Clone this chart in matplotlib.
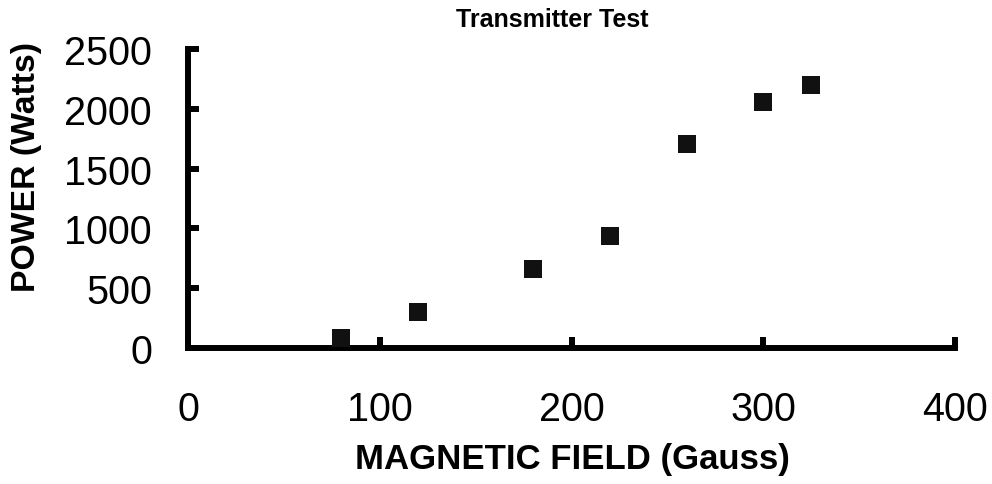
import matplotlib
matplotlib.use("Agg")
import matplotlib.pyplot as plt

field = [80, 120, 180, 220, 260, 300, 325]
power = [85, 300, 660, 935, 1705, 2060, 2200]
xticks = [0, 100, 200, 300, 400]
yticks = [0, 500, 1000, 1500, 2000, 2500]

plt.rcParams['font.family'] = ['Liberation Sans', 'DejaVu Sans']

W, H = 992, 485
fig = plt.figure(figsize=(W/100, H/100), dpi=100)
ax = fig.add_axes([188/W, 1-349/H, (955-188)/W, (349-50)/H])

ax.scatter(field, power, marker='s', s=13**2, color='#111111', linewidths=0, zorder=3, clip_on=False)

ax.set_xlim(0, 400)
ax.set_ylim(0, 2500)
ax.set_xticks(xticks)
ax.set_yticks(yticks)
ax.set_xticklabels([str(v) for v in xticks])
ax.set_yticklabels([str(v) for v in yticks])

for s in ['top', 'right']:
    ax.spines[s].set_visible(False)
for s in ['left', 'bottom']:
    ax.spines[s].set_linewidth(4.3)
    ax.spines[s].set_color('black')
    ax.spines[s].set_capstyle('projecting')

ax.tick_params(axis='both', direction='in', length=8, width=4.3, color='black',
               labelsize=28.5, labelcolor='black')
ax.tick_params(axis='x', pad=30)
ax.tick_params(axis='y', pad=26)

fig.text(572/W, 1-460/H, 'MAGNETIC FIELD (Gauss)', ha='center', va='center',
         fontsize=25, fontweight='bold')
fig.text(27/W, 1-167/H, 'POWER (Watts)', ha='center', va='center', rotation=90,
         fontsize=24.3, fontweight='bold')

fig.text(552/W, 1-20/H, 'Transmitter Test', ha='center', va='center', fontsize=18, fontweight='bold')

fig.savefig('out.png', dpi=100)
